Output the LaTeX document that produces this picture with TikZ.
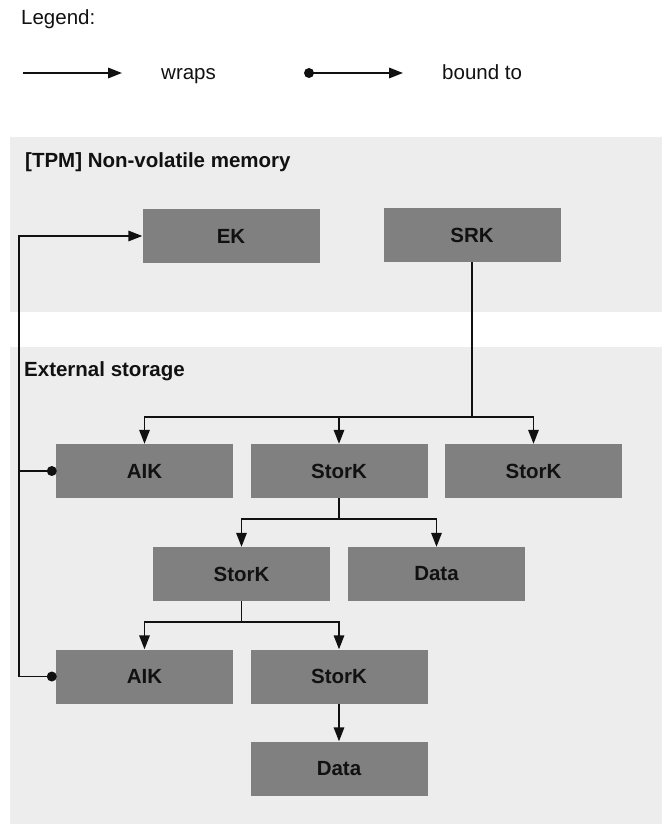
\documentclass[tikz,border=0pt]{standalone}
\usepackage{fontspec}
\setmainfont{Liberation Sans}
\usetikzlibrary{arrows.meta}
\definecolor{panelgray}{HTML}{EDEDED}
\definecolor{boxgray}{HTML}{808080}
\definecolor{ink}{HTML}{111111}
\begin{document}
\begin{tikzpicture}[x=1pt,y=-1pt,
  txt/.style={font=\fontsize{20.5}{24}\selectfont, text=ink},
  keybox/.style={txt, fill=boxgray, minimum width=177pt, minimum height=54pt,
                 inner sep=0pt, font=\fontsize{20.5}{24}\selectfont\bfseries},
  wire/.style={draw=ink, line width=1.7pt, line join=miter},
  link/.style={wire, -{Triangle[length=14pt,width=10.5pt]}},
  lbl/.style={txt, inner sep=0pt, anchor=base west},
  heading/.style={lbl, font=\fontsize{20.5}{24}\selectfont\bfseries},
  knot/.style={fill=ink}]
\useasboundingbox (0,0) rectangle (662,824);

% memory areas
\fill[panelgray] (10,137) rectangle (662,312);
\fill[panelgray] (10,347) rectangle (662,824);

% legend
\node[lbl] (legend) at (21,25) {Legend:};
\coordinate (wa) at (23,73);
\coordinate (wb) at (122,73);
\draw[link] (wa) -- (wb);
\node[lbl] (wraps) at (161,80) {wraps};
\coordinate (ba) at (309,73);
\coordinate (bb) at (403,73);
\draw[link] (ba) -- (bb);
\fill[knot] (ba) circle (5pt);
\node[lbl] (bound) at (442,80) {bound to};

% area titles
\node[heading] (tpm) at (25,167) {[TPM] Non-volatile memory};
\node[heading] (ext) at (24,376) {External storage};

% keys
\node[keybox] (ek)    at (231,236)     {EK};
\node[keybox] (srk)   at (472,235)     {SRK};
\node[keybox] (aik1)  at (144.5,471)   {AIK};
\node[keybox] (sk1)   at (339,471)     {StorK};
\node[keybox] (sk2)   at (533.5,471)   {StorK};
\node[keybox] (sk3)   at (241.5,574)   {StorK};
\node[keybox] (data1) at (436.5,574)   {Data};
\node[keybox] (aik2)  at (144.5,676.5) {AIK};
\node[keybox] (sk4)   at (339,676.5)   {StorK};
\node[keybox] (data2) at (339,768.5)   {Data};

% branching levels
\coordinate (lvl1) at (0,417);
\coordinate (lvl2) at (0,519);
\coordinate (lvl3) at (0,622);
\coordinate (rail) at (19,0);

% wrapping
\draw[wire] (srk.south) -- (srk.south |- lvl1);
\draw[link] (srk.south |- lvl1) -| (aik1.north);
\draw[link] (srk.south |- lvl1) -| (sk1.north);
\draw[link] (srk.south |- lvl1) -| (sk2.north);

\draw[wire] (sk1.south) -- (sk1.south |- lvl2);
\draw[link] (sk1.south |- lvl2) -| (sk3.north);
\draw[link] (sk1.south |- lvl2) -| (data1.north);

\draw[wire] (sk3.south) -- (sk3.south |- lvl3);
\draw[link] (sk3.south |- lvl3) -| (aik2.north);
\draw[link] (sk3.south |- lvl3) -| (sk4.north);

\draw[link] (sk4.south) -- (data2.north);

% binding
\draw[link] (aik2.west) -- (aik2.west -| rail) |- (ek.west);
\draw[wire] (aik1.west) -- (aik1.west -| rail);
\fill[knot] ([xshift=-4pt]aik1.west) circle (5pt);
\fill[knot] ([xshift=-4pt]aik2.west) circle (5pt);
\end{tikzpicture}
\end{document}
